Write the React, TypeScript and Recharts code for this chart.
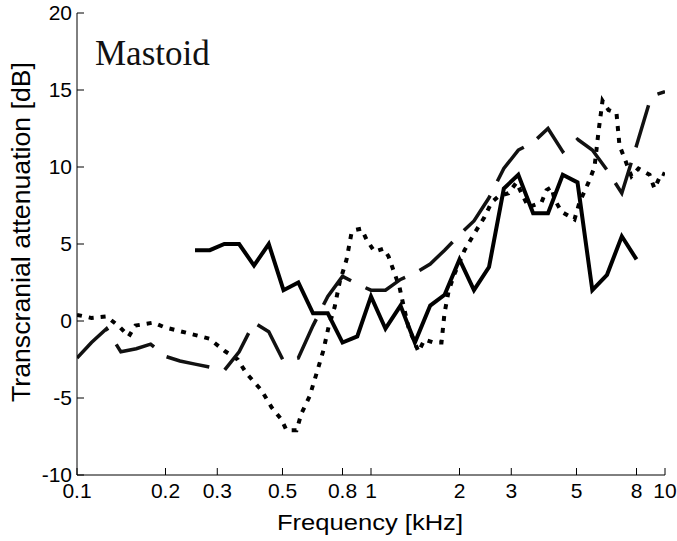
import { LineChart, Line, XAxis, YAxis } from 'recharts';

// 1/6-octave frequency grid (kHz) shared by the solid and long-dashed curves
const freqGrid = [
  0.1, 0.112, 0.126, 0.141, 0.159, 0.178, 0.2, 0.224, 0.252, 0.283, 0.317, 0.356, 0.4, 0.449,
  0.504, 0.566, 0.635, 0.713, 0.8, 0.898, 1.0, 1.12, 1.26, 1.41, 1.59, 1.78, 2.0, 2.24, 2.52,
  2.83, 3.17, 3.56, 4.0, 4.49, 5.04, 5.66, 6.35, 7.13, 8.0, 8.98, 10.0,
];

// solid curve, 0.25 .. 8 kHz
const solidDb = [
  4.6, 4.6, 5.0, 5.0, 3.6, 5.0, 2.0, 2.5, 0.5, 0.5, -1.4, -1.0, 1.6, -0.5, 1.0, -1.4, 1.0, 1.7,
  4.0, 2.0, 3.5, 8.6, 9.5, 7.0, 7.0, 9.5, 9.0, 2.0, 3.0, 5.5, 4.0,
];

// long-dashed curve, 0.1 .. 10 kHz
const dashDb = [
  -2.4, -1.4, -0.5, -2.0, -1.8, -1.5, -2.3, -2.6, -2.8, -3.0, -3.2, -2.0, -0.1, -0.7, -2.6,
  -2.4, -0.3, 1.6, 2.9, 2.4, 2.0, 2.0, 2.7, 3.1, 3.7, 4.6, 5.6, 6.5, 8.0, 9.9, 11.1, 11.6, 12.5,
  11.0, 11.8, 11.1, 9.8, 8.3, 11.4, 14.6, 14.9,
];

// dotted curve has its own (finer) frequency points
const dotFreq = [
  0.1, 0.112, 0.126, 0.14, 0.15, 0.158, 0.182, 0.198, 0.223, 0.251, 0.282, 0.318, 0.352, 0.377,
  0.424, 0.459, 0.496, 0.516, 0.558, 0.58, 0.618, 0.653, 0.689, 0.717, 0.752, 0.782, 0.826,
  0.858, 0.879, 0.928, 0.965, 1.028, 1.103, 1.147, 1.202, 1.25, 1.29, 1.341, 1.395, 1.451, 1.521,
  1.632, 1.737, 1.778, 1.835, 1.908, 2.08, 2.249, 2.433, 2.57, 2.715, 2.936, 3.126, 3.25, 3.433,
  3.801, 3.953, 4.111, 4.209, 4.446, 4.923, 5.119, 5.494, 5.758, 5.941, 6.13, 6.424, 6.839,
  7.001, 7.338, 7.692, 8.125, 8.859, 9.21, 9.73, 10.0,
];
const dotDb = [
  0.4, 0.2, 0.3, -0.4, -1.0, -0.3, -0.1, -0.4, -0.65, -0.9, -1.15, -1.95, -2.5, -3.4, -4.5, -5.6,
  -6.4, -7.1, -7.1, -6.0, -4.9, -3.4, -1.9, -0.4, 0.9, 2.5, 4.0, 5.7, 5.9, 6.0, 5.3, 4.5, 4.7,
  4.2, 3.1, 2.2, 1.0, -0.4, -1.2, -2.0, -1.2, -1.4, -1.4, 0.5, 1.9, 2.9, 4.6, 5.7, 6.75, 7.7, 8.1,
  8.3, 9.0, 8.3, 7.4, 7.7, 8.5, 8.7, 7.9, 7.1, 6.6, 7.7, 9.0, 10.0, 12.3, 14.3, 13.7, 13.5, 11.4,
  10.4, 9.4, 9.9, 9.5, 8.6, 9.6, 9.5,
];

const xTicks = [0.1, 0.2, 0.3, 0.5, 0.8, 1, 2, 3, 5, 8, 10];
const yTicks = [-10, -5, 0, 5, 10, 15, 20];

const toPoints = (fs: number[], vs: number[]) => fs.map((f, i) => ({ f, v: vs[i] }));

const solidData = toPoints(freqGrid.slice(8, 39), solidDb);
const dashData = toPoints(freqGrid, dashDb);
const dotData = toPoints(dotFreq, dotDb);

const sans = '"Liberation Sans", Arial, sans-serif';
const tickStyle = { fill: '#000', fontSize: 21, fontFamily: sans };

export default function App() {
  return (
    <div style={{ position: 'absolute', left: 0, top: 0, width: 677, height: 541 }}>
      <LineChart width={677} height={541} margin={{ top: 13, right: 12, bottom: 0, left: 0 }}>
        <XAxis
          dataKey="f"
          type="number"
          scale="log"
          domain={[0.1, 10]}
          allowDataOverflow
          ticks={xTicks}
          interval={0}
          height={66}
          tickSize={-7}
          tickMargin={15}
          stroke="#000"
          tick={tickStyle}
          tickFormatter={(v) => String(v)}
        />
        <XAxis
          xAxisId="top"
          orientation="top"
          type="number"
          scale="log"
          domain={[0.1, 10]}
          allowDataOverflow
          ticks={xTicks}
          interval={0}
          height={0}
          tickSize={-7}
          tick={false}
          stroke="#000"
        />
        <YAxis
          type="number"
          domain={[-10, 20]}
          allowDataOverflow
          ticks={yTicks}
          interval={0}
          width={77}
          tickSize={-7}
          tickMargin={12}
          stroke="#000"
          tick={tickStyle}
        />
        <YAxis
          yAxisId="right"
          orientation="right"
          type="number"
          domain={[-10, 20]}
          allowDataOverflow
          ticks={yTicks}
          interval={0}
          width={0}
          tickSize={-7}
          tick={false}
          stroke="#666"
        />
        <Line
          data={dotData}
          dataKey="v"
          stroke="#000"
          strokeWidth={4}
          strokeDasharray="5 7"
          dot={false}
          activeDot={false}
          isAnimationActive={false}
        />
        <Line
          data={dashData}
          dataKey="v"
          stroke="#111"
          strokeWidth={3.5}
          strokeDasharray="44 16"
          dot={false}
          activeDot={false}
          isAnimationActive={false}
        />
        <Line
          data={solidData}
          dataKey="v"
          stroke="#000"
          strokeWidth={4}
          dot={false}
          activeDot={false}
          isAnimationActive={false}
        />
        <text x={95} y={65} fontSize={35} fontFamily='"Liberation Serif", "Times New Roman", serif' fill="#111">
          Mastoid
        </text>
        <text
          x={30}
          y={232}
          transform="rotate(-90 30 232)"
          textAnchor="middle"
          fontSize={26}
          fontFamily={sans}
          textLength={340}
          lengthAdjust="spacingAndGlyphs"
          fill="#000"
        >
          Transcranial attenuation [dB]
        </text>
        <text
          x={370}
          y={530}
          textAnchor="middle"
          fontSize={22}
          fontFamily={sans}
          textLength={186}
          lengthAdjust="spacingAndGlyphs"
          fill="#000"
        >
          Frequency [kHz]
        </text>
      </LineChart>
    </div>
  );
}
